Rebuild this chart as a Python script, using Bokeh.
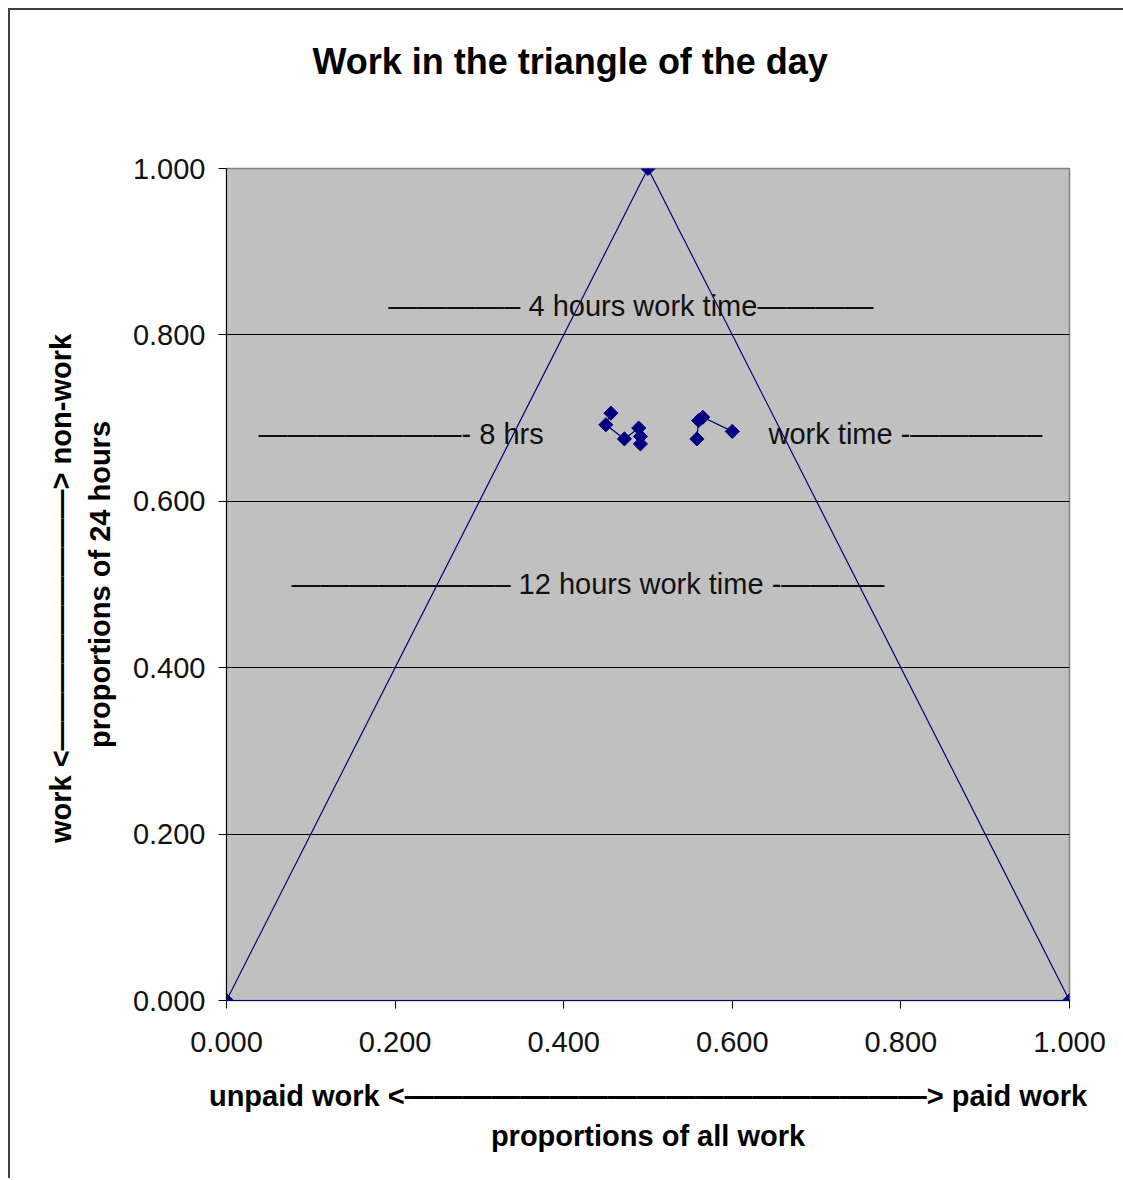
import math
from bokeh.plotting import figure
from bokeh.models import (FixedTicker, PrintfTickFormatter, LinearAxis, Title,
                          Range1d, ColumnDataSource)
from bokeh.core.properties import value
from bokeh.embed import file_html
from bokeh.resources import INLINE

# ---- data ----
triangle_x = [0.0, 0.5, 1.0]
triangle_y = [0.0, 1.0, 0.0]

cluster_a_x = [0.456, 0.450, 0.472, 0.489, 0.491, 0.491]
cluster_a_y = [0.706, 0.692, 0.675, 0.688, 0.678, 0.669]
cluster_b_x = [0.558, 0.560, 0.565, 0.600]
cluster_b_y = [0.675, 0.697, 0.701, 0.684]

ticks = [0.0, 0.2, 0.4, 0.6, 0.8, 1.0]

D = "\u2014"   # em dash
N = "\u2013"   # en dash
note_text = [D * 4 + N + " 4 hours work time" + D * 4,
             D * 7 + "- 8 hrs",
             "work time -" + D * 4 + N,
             D * 7 + N + " 12 hours work time -" + D * 3 + N]
note_x = [0.192, 0.038, 0.643, 0.077]
note_y = [0.835, 0.681, 0.681, 0.501]

title_text = "Work in the triangle of the day"
x_label_1 = "unpaid work <" + D * 18 + "> paid work"
x_label_2 = "proportions of all work"
y_label_1 = "proportions of 24 hours"
y_label_2 = "work  <" + D * 9 + "> non-work"

NAVY = "#000080"
FONT = "Liberation Sans"

p = figure(frame_width=843, frame_height=832,
           x_range=Range1d(0, 1), y_range=Range1d(0, 1),
           output_backend="svg", toolbar_location=None,
           min_border_left=216, min_border_right=54,
           min_border_top=158, min_border_bottom=178,
           background_fill_color="#c0c0c0", border_fill_color="white",
           outline_line_color="#808080", outline_line_width=1.5)
p.styles = {"margin-left": "8px", "margin-top": "8px",
            "border-left": "2px solid #404040", "border-top": "2px solid #404040"}
p.title = None

xa = p.below[0]
ya = p.left[0]

# grid
p.xgrid.grid_line_color = None
p.ygrid.grid_line_color = "black"
p.ygrid.grid_line_width = 1.2
p.ygrid.ticker = FixedTicker(ticks=ticks)

for ax in (xa, ya):
    ax.ticker = FixedTicker(ticks=ticks)
    ax.formatter = PrintfTickFormatter(format="%.3f")
    ax.minor_tick_line_color = None
    ax.major_tick_in = 0
    ax.major_tick_out = 8
    ax.major_tick_line_color = "black"
    ax.major_label_text_font = FONT
    ax.major_label_text_font_size = "29px"
    ax.major_label_text_color = "#111111"
    ax.axis_label_text_font = FONT
    ax.axis_label_text_font_size = "29px"
    ax.axis_label_text_font_style = "bold"
    ax.axis_label_text_color = "black"

xa.axis_line_color = NAVY
xa.major_label_standoff = 23
xa.axis_label = x_label_1
xa.axis_label_standoff = 25

ya.axis_line_color = "black"
ya.major_label_standoff = 13
ya.axis_label = y_label_1
ya.axis_label_standoff = 14


def label_axis(text, standoff):
    a = LinearAxis(axis_label=text, axis_line_color=None,
                   major_tick_line_color=None, minor_tick_line_color=None,
                   major_tick_out=0, major_tick_in=0, minor_tick_out=0,
                   minor_tick_in=0, major_label_standoff=0,
                   major_label_text_font_size="0px",
                   axis_label_standoff=standoff,
                   axis_label_text_font=FONT, axis_label_text_font_size="29px",
                   axis_label_text_font_style="bold", axis_label_text_color="black")
    a.ticker = FixedTicker(ticks=[])
    return a


p.add_layout(label_axis(x_label_2, 5), "below")
p.add_layout(label_axis(y_label_2, 4), "left")

# invisible spacer axis above the frame (one hidden tick gives it height),
# then the title beyond it
spacer = LinearAxis(axis_line_color=None, major_tick_line_color=None,
                    minor_tick_line_color=None, major_tick_in=0, major_tick_out=82,
                    minor_tick_in=0, minor_tick_out=0, major_label_standoff=0,
                    major_label_text_font_size="1px", major_label_text_alpha=0,
                    major_label_overrides={0.5: " "})
spacer.ticker = FixedTicker(ticks=[0.5])
p.add_layout(spacer, "above")
p.add_layout(Title(text=title_text, align="left", offset=86, standoff=10,
                   text_font=FONT, text_font_size="36px", text_font_style="bold",
                   text_color="black"), "above")

# triangle
p.line(triangle_x, triangle_y, line_color=NAVY, line_width=1.2)
p.scatter(triangle_x, triangle_y, marker="square", angle=math.pi / 4, size=10,
          fill_color=NAVY, line_color=NAVY)

# data clusters
for xs, ys in ((cluster_a_x, cluster_a_y), (cluster_b_x, cluster_b_y)):
    p.line(xs, ys, line_color=NAVY, line_width=1.2)
    p.scatter(xs, ys, marker="square", angle=math.pi / 4, size=10,
              fill_color=NAVY, line_color=NAVY)

# annotations
src = ColumnDataSource(dict(x=note_x, y=note_y, text=note_text))
p.text(x="x", y="y", text="text", source=src, text_align="left",
       text_baseline="middle", text_font=value(FONT), text_font_size="29px",
       text_color="#111111")

open("out.html", "w").write(file_html(p, INLINE))
